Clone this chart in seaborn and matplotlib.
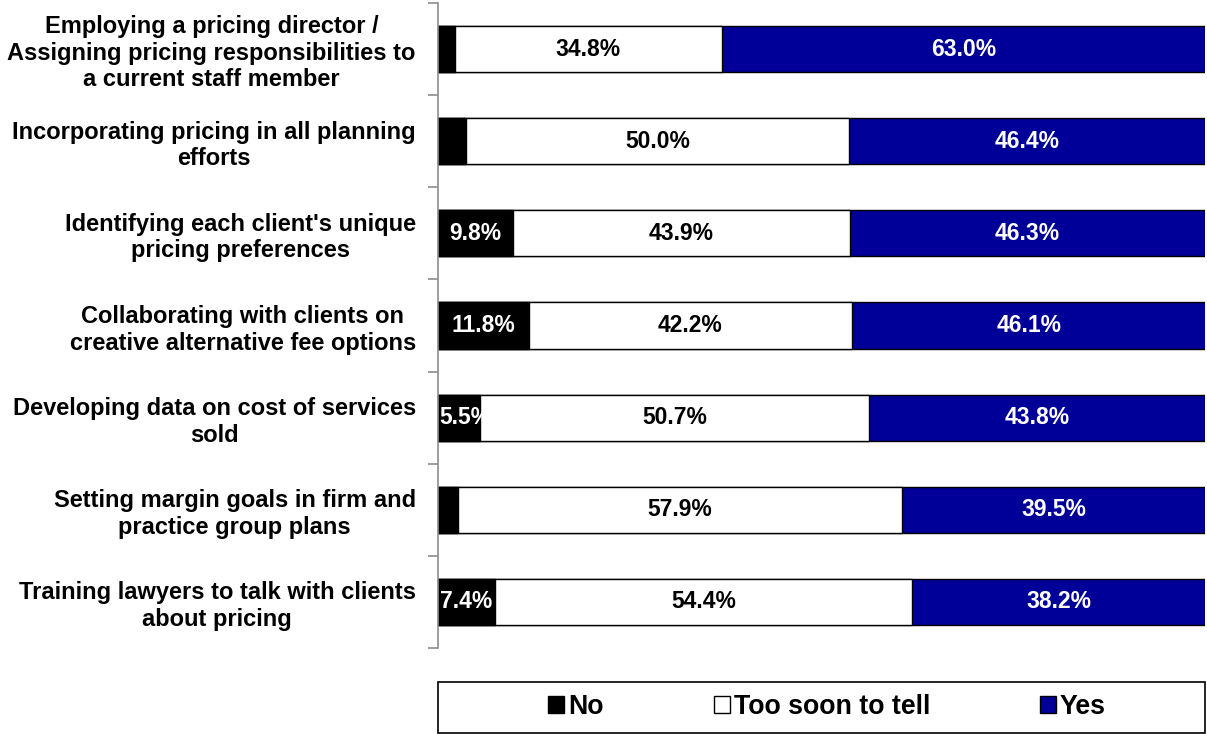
import matplotlib
matplotlib.use("Agg")
import matplotlib.pyplot as plt
from matplotlib.patches import Patch, Rectangle
import seaborn as sns
import pandas as pd

sns.set_style("white")
plt.rcParams["font.family"] = ["Liberation Sans", "DejaVu Sans"]
plt.rcParams["font.weight"] = "bold"
plt.rcParams["text.color"] = "black"
plt.rcParams["ytick.color"] = "black"

categories = [
    "Employing a pricing director /\nAssigning pricing responsibilities to\na current staff member",
    "Incorporating pricing in all planning\nefforts",
    "Identifying each client's unique\npricing preferences",
    "Collaborating with clients on\ncreative alternative fee options",
    "Developing data on cost of services\nsold",
    "Setting margin goals in firm and\npractice group plans",
    "Training lawyers to talk with clients\nabout pricing",
]
no_vals = [2.2, 3.6, 9.8, 11.8, 5.5, 2.6, 7.4]
soon_vals = [34.8, 50.0, 43.9, 42.2, 50.7, 57.9, 54.4]
yes_vals = [63.0, 46.4, 46.3, 46.1, 43.8, 39.5, 38.2]
series_names = ["No", "Too soon to tell", "Yes"]
series_colors = ["#000000", "#ffffff", "#000099"]

df = pd.DataFrame({"category": categories, "No": no_vals,
                   "Too soon to tell": soon_vals, "Yes": yes_vals})
df["cum_no"] = df["No"]
df["cum_soon"] = df["No"] + df["Too soon to tell"]
df["cum_yes"] = df["cum_soon"] + df["Yes"]

fig = plt.figure(figsize=(12.07, 7.34), dpi=100)
ax = fig.add_axes([438 / 1207, 1 - 648 / 734, 767 / 1207, 645 / 734])

# stacked bars drawn back to front: total (Yes), No+Too soon, No
for col, color in [("cum_yes", series_colors[2]), ("cum_soon", series_colors[1]),
                   ("cum_no", series_colors[0])]:
    sns.barplot(data=df, x=col, y="category", orient="h", color=color,
                saturation=1, width=0.5, edgecolor="#000000", linewidth=1,
                ax=ax)
no_patches = ax.patches[-len(categories):]

ax.set_xlim(0, 100)
ax.set_ylim(len(categories) - 0.5, -0.5)
ax.set_xlabel("")
ax.set_ylabel("")
ax.xaxis.set_visible(False)
for s in ["top", "right", "bottom"]:
    ax.spines[s].set_visible(False)
ax.spines["left"].set_color("#8c8c8c")
ax.spines["left"].set_linewidth(1.2)

ax.set_yticks(range(len(categories)))
ax.set_yticklabels(categories, fontsize=17, fontweight="bold", color="black",
                   multialignment="center", linespacing=1.2)
ax.tick_params(axis="y", which="major", length=0, pad=16, left=False)
ax.set_yticks([i - 0.5 for i in range(len(categories) + 1)], minor=True)
ax.tick_params(axis="y", which="minor", left=True, length=7, width=1.2,
               color="#8c8c8c")

lbl_size = 16.5
for i in range(len(categories)):
    n, s, y = no_vals[i], soon_vals[i], yes_vals[i]
    if n >= 5:
        if n >= 9:
            t = ax.text(n / 2, i, f"{n:.1f}%", ha="center", va="center",
                        color="white", fontsize=lbl_size, fontweight="bold")
        else:
            t = ax.text(0.2, i, f"{n:.1f}%", ha="left", va="center",
                        color="white", fontsize=lbl_size, fontweight="bold")
            t.set_clip_path(no_patches[i])
    ax.text(n + s / 2, i, f"{s:.1f}%", ha="center", va="center",
            color="black", fontsize=lbl_size, fontweight="bold")
    ax.text(n + s + y / 2, i, f"{y:.1f}%", ha="center", va="center",
            color="white", fontsize=lbl_size, fontweight="bold")

# legend box
fig.patches.append(Rectangle((438 / 1207, 1 - 733 / 734), 767 / 1207,
                             51 / 734, transform=fig.transFigure,
                             facecolor="white", edgecolor="#000000",
                             linewidth=1.2))
handles = [Patch(facecolor=c, edgecolor="#000000", linewidth=1)
           for c in series_colors]
fig.legend(handles, series_names, loc="center",
           bbox_to_anchor=(827 / 1207, 1 - 707 / 734), ncol=3,
           frameon=False, prop={"weight": "bold", "size": 19.3},
           handlelength=0.6, handleheight=0.6, handletextpad=0.15,
           columnspacing=4.1)

fig.savefig("out.png", dpi=100)
